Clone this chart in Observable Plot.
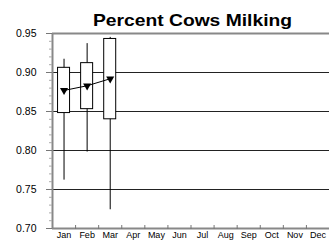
<!DOCTYPE html>
<html>
<head>
<meta charset="utf-8">
<script src="https://cdn.jsdelivr.net/npm/d3@7"></script>
<script src="https://cdn.jsdelivr.net/npm/@observablehq/plot@0.6"></script>
<style>
  html, body { margin: 0; padding: 0; background: #fff; }
  svg { font-family: "Liberation Sans", Arial, sans-serif; }
</style>
</head>
<body>
<div id="chart"></div>
<script>
const title = "Percent Cows Milking";
const months = ["Jan","Feb","Mar","Apr","May","Jun","Jul","Aug","Sep","Oct","Nov","Dec"];
const boxMonths = ["Jan","Feb","Mar"];
const whiskerLow  = [0.762, 0.798, 0.724];
const boxLow      = [0.848, 0.853, 0.840];
const boxHigh     = [0.906, 0.912, 0.943];
const whiskerHigh = [0.917, 0.937, 0.945];
const meanValues  = [0.877, 0.883, 0.892];
const yMajorTicks = [0.70, 0.75, 0.80, 0.85, 0.90, 0.95];
const gridValues  = [0.75, 0.80, 0.85, 0.90];

const rows = boxMonths.map((m, i) => ({
  month: m,
  pos: months.indexOf(m) + 0.5,
  wLo: whiskerLow[i], bLo: boxLow[i], bHi: boxHigh[i], wHi: whiskerHigh[i], mean: meanValues[i]
}));
const monthPos = months.map((m, i) => i + 0.5);
const boundaries = d3.range(1, 12);
const minorTicks = d3.range(70, 96).map(v => v / 100);

const chart = Plot.plot({
  width: 329,
  height: 242,
  marginTop: 33,
  marginBottom: 14,
  marginLeft: 52,
  marginRight: 0,
  style: {fontFamily: "Liberation Sans, Arial, sans-serif", background: "white"},
  x: {domain: [0, 12], label: null},
  y: {domain: [0.70, 0.95], label: null},
  marks: [
    Plot.ruleY(gridValues, {stroke: "#222", strokeWidth: 1}),
    Plot.ruleY([0.95], {stroke: "#888", strokeWidth: 2}),
    Plot.ruleY([0.70], {stroke: "#888", strokeWidth: 2}),
    Plot.ruleX([0], {stroke: "#888", strokeWidth: 2}),
    Plot.axisY({ticks: minorTicks, tickFormat: () => "", tickSize: 3, stroke: "#aaa", strokeOpacity: 1, label: null}),
    Plot.axisY({ticks: yMajorTicks, tickFormat: d3.format(".2f"), tickSize: 6, tickPadding: 10, fontSize: 10.5, fill: "#000", stroke: "#777", strokeOpacity: 1, label: null}),
    Plot.axisX({ticks: boundaries, tickFormat: () => "", tickSize: -3, stroke: "#777", strokeOpacity: 1, label: null}),
    Plot.axisX({ticks: boundaries, tickFormat: () => "", tickSize: 1, stroke: "#777", strokeOpacity: 1, label: null}),
    Plot.axisX({ticks: monthPos, tickFormat: d => months[Math.floor(d)], tickSize: 0, tickPadding: 3, fontSize: 9, fill: "#000", label: null}),
    Plot.ruleX(rows, {x: "pos", y1: "wLo", y2: "wHi", stroke: "#000", strokeWidth: 1}),
    Plot.rect(rows, {x1: d => d.pos - 0.26, x2: d => d.pos + 0.26, y1: "bLo", y2: "bHi", fill: "white", stroke: "#000", strokeWidth: 1}),
    Plot.line(rows, {x: "pos", y: "mean", stroke: "#000", strokeWidth: 1}),
    Plot.dot(rows, {x: "pos", y: "mean", symbol: "triangle", rotate: 180, r: 3, fill: "#000", stroke: "none"}),
    Plot.text([title], {frameAnchor: "top", lineAnchor: "bottom", dy: -8, dx: 1.5, fontSize: 17, fontWeight: "bold", fill: "#000"})
  ]
});
d3.select(chart).selectAll("text").filter(function() { return this.textContent === title; })
  .attr("textLength", 199).attr("lengthAdjust", "spacingAndGlyphs");
document.getElementById("chart").appendChild(chart);
</script>
</body>
</html>
